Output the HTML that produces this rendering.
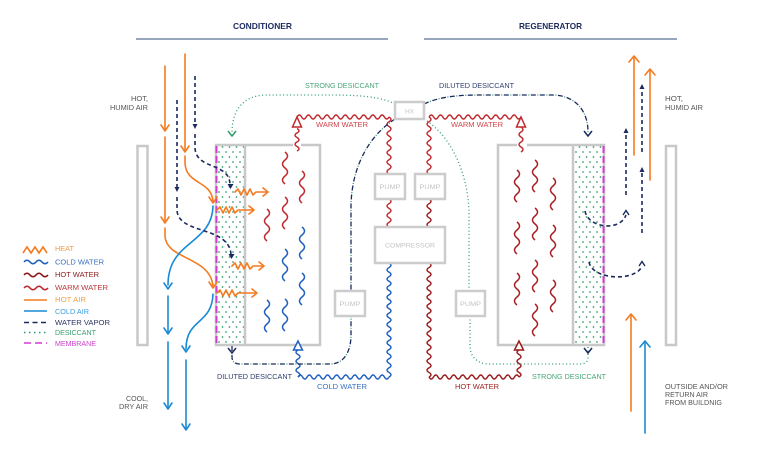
<!DOCTYPE html>
<html><head><meta charset="utf-8"><style>
html,body{margin:0;padding:0;background:#fff;}
svg{display:block;}
text{font-family:"Liberation Sans",Arial,sans-serif;}
</style></head><body>
<svg width="770" height="456" viewBox="0 0 770 456" xmlns="http://www.w3.org/2000/svg">
<defs>
<pattern id="dots" width="7" height="10" patternUnits="userSpaceOnUse">
<circle cx="2" cy="2" r="0.85" fill="#2e9a6a"/>
<circle cx="5.5" cy="7" r="0.85" fill="#2e9a6a"/>
</pattern>
</defs>
<rect width="770" height="456" fill="#fff"/>

<!-- titles -->
<text x="233" y="29" font-size="8.5" font-weight="bold" fill="#1b2a5e" textLength="59" lengthAdjust="spacingAndGlyphs">CONDITIONER</text>
<text x="519" y="29" font-size="8.5" font-weight="bold" fill="#1b2a5e" textLength="63" lengthAdjust="spacingAndGlyphs">REGENERATOR</text>
<line x1="136" y1="39" x2="388" y2="39" stroke="#97a6bd" stroke-width="2"/>
<line x1="424" y1="39" x2="677" y2="39" stroke="#97a6bd" stroke-width="2"/>

<!-- side panels -->
<rect x="137.5" y="146" width="10" height="199" fill="#fff" stroke="#c8c8c8" stroke-width="2.5"/>
<rect x="666" y="146" width="10" height="199" fill="#fff" stroke="#c8c8c8" stroke-width="2.5"/>

<!-- desiccant columns -->
<rect x="217" y="146" width="28" height="198" fill="url(#dots)"/>
<rect x="574" y="146" width="29" height="198" fill="url(#dots)"/>

<!-- box outlines -->
<g fill="none" stroke="#c8c8c8" stroke-width="2.5">
<path d="M293 145 L216 145 L216 345 L320 345 L320 145 L301 145"/>
<path d="M245 145 L245 345"/>
<path d="M517 145 L498 145 L498 345 L604 345 L604 145 L527 145"/>
<path d="M573 145 L573 345"/>
</g>
<!-- membranes -->
<line x1="216.5" y1="146" x2="216.5" y2="345" stroke="#d43ad4" stroke-width="2" stroke-dasharray="7 3"/>
<line x1="603.5" y1="146" x2="603.5" y2="345" stroke="#d43ad4" stroke-width="2" stroke-dasharray="7 3"/>

<!-- squiggles left box -->
<g fill="none" stroke-width="1.5">
<g stroke="#c0282d">
<path d="M285 152 q5 4 0 8t0 8t0 8t0 8"/>
<path d="M302 171 q5 4 0 8t0 8t0 8t0 8"/>
<path d="M285 197 q5 4 0 8t0 8t0 8t0 8"/>
<path d="M267 209 q5 4 0 8t0 8t0 8t0 8"/>
</g>
<g stroke="#1f5fbf">
<path d="M302 227 q5 4 0 8t0 8t0 8t0 8"/>
<path d="M285 249 q5 4 0 8t0 8t0 8t0 8"/>
<path d="M302 273 q5 4 0 8t0 8t0 8t0 8"/>
<path d="M267 300 q5 4 0 8t0 8t0 8t0 8"/>
<path d="M285 299 q5 4 0 8t0 8t0 8t0 8"/>
</g>
<!-- squiggles right box -->
<g stroke="#a81f24">
<path d="M535 160 q5 4 0 8t0 8t0 8t0 8"/>
<path d="M517 170 q5 4 0 8t0 8t0 8t0 8"/>
<path d="M553 178 q5 4 0 8t0 8t0 8t0 8"/>
<path d="M535 208 q5 4 0 8t0 8t0 8t0 8"/>
<path d="M517 222 q5 4 0 8t0 8t0 8t0 8"/>
<path d="M553 225 q5 4 0 8t0 8t0 8t0 8"/>
<path d="M535 260 q5 4 0 8t0 8t0 8t0 8"/>
<path d="M517 273 q5 4 0 8t0 8t0 8t0 8"/>
<path d="M553 280 q5 4 0 8t0 8t0 8t0 8"/>
<path d="M535 304 q5 4 0 8t0 8t0 8t0 8"/>
</g>
</g>

<!-- water wires -->
<g fill="none" stroke-width="1.4">
<!-- left warm water -->
<g stroke="#c0282d">
<path d="M297 151 q4 -2.25 0 -4.5t0 -4.5t0 -4.5t0 -4.5t0 -4.5"/>
<path d="M297 117 q2.3 -4 4.6 0t4.6 0t4.6 0t4.6 0t4.6 0t4.6 0t4.6 0t4.6 0t4.6 0t4.6 0t4.6 0t4.6 0t4.6 0t4.6 0t4.6 0t4.6 0t4.6 0t4.6 0t4.6 0t4.6 0"/>
<path d="M389 117 q4 2.375 0 4.75t0 4.75t0 4.75t0 4.75t0 4.75t0 4.75t0 4.75t0 4.75t0 4.75t0 4.75t0 4.75t0 4.75"/>
<path d="M389 199 q4 2.33 0 4.67t0 4.67t0 4.67t0 4.67t0 4.67t0 4.67"/>
<!-- right warm water -->
<path d="M429 117 q4 2.375 0 4.75t0 4.75t0 4.75t0 4.75t0 4.75t0 4.75t0 4.75t0 4.75t0 4.75t0 4.75t0 4.75t0 4.75"/>
<path d="M429 117 q2.3 -4 4.6 0t4.6 0t4.6 0t4.6 0t4.6 0t4.6 0t4.6 0t4.6 0t4.6 0t4.6 0t4.6 0t4.6 0t4.6 0t4.6 0t4.6 0t4.6 0t4.6 0t4.6 0t4.6 0t4.6 0"/>
<path d="M521 127 q4 2.5 0 5t0 5t0 5t0 5t0 5"/>
</g>
<g stroke="#9a1c1c">
<path d="M429 199 q4 2.33 0 4.67t0 4.67t0 4.67t0 4.67t0 4.67t0 4.67"/>
<!-- hot water -->
<path d="M429 263 q4 2.28 0 4.56t0 4.56t0 4.56t0 4.56t0 4.56t0 4.56t0 4.56t0 4.56t0 4.56t0 4.56t0 4.56t0 4.56t0 4.56t0 4.56t0 4.56t0 4.56t0 4.56t0 4.56t0 4.56t0 4.56t0 4.56t0 4.56t0 4.56t0 4.56t0 4.56"/>
<path d="M429 377 q2.25 4 4.5 0t4.5 0t4.5 0t4.5 0t4.5 0t4.5 0t4.5 0t4.5 0t4.5 0t4.5 0t4.5 0t4.5 0t4.5 0t4.5 0t4.5 0t4.5 0t4.5 0t4.5 0t4.5 0t4.5 0"/>
<path d="M519 377 q4 -2.25 0 -4.5t0 -4.5t0 -4.5t0 -4.5t0 -4.5t0 -4.5"/>
</g>
<!-- cold water -->
<g stroke="#1f5fbf">
<path d="M389 263 q4 2.28 0 4.56t0 4.56t0 4.56t0 4.56t0 4.56t0 4.56t0 4.56t0 4.56t0 4.56t0 4.56t0 4.56t0 4.56t0 4.56t0 4.56t0 4.56t0 4.56t0 4.56t0 4.56t0 4.56t0 4.56t0 4.56t0 4.56t0 4.56t0 4.56t0 4.56"/>
<path d="M389 377 q-2.275 4 -4.55 0t-4.55 0t-4.55 0t-4.55 0t-4.55 0t-4.55 0t-4.55 0t-4.55 0t-4.55 0t-4.55 0t-4.55 0t-4.55 0t-4.55 0t-4.55 0t-4.55 0t-4.55 0t-4.55 0t-4.55 0t-4.55 0t-4.55 0"/>
<path d="M298 377 q4 -2.25 0 -4.5t0 -4.5t0 -4.5t0 -4.5t0 -4.5t0 -4.5"/>
</g>
</g>
<!-- triangles -->
<g fill="#fff" stroke-width="1.5">
<path d="M297 117 L292.5 127 L301.5 127 Z" stroke="#c0282d"/>
<path d="M521 117 L516.5 127 L525.5 127 Z" stroke="#c0282d"/>
<path d="M298 341 L293.5 350 L302.5 350 Z" stroke="#1f5fbf"/>
<path d="M519 341 L514.5 350 L523.5 350 Z" stroke="#9a1c1c"/>
</g>

<!-- desiccant loops -->
<g fill="none" stroke-width="1.3">
<path d="M395 104 C375 94 345 95 305 95 L265 95 C243 96 232 110 232 133" stroke="#2e9a6a" stroke-dasharray="1 2.5"/>
<path d="M424 104 C445 94 470 95 500 95 L555 95 C578 97 588 113 588 132" stroke="#1b2a5e" stroke-dasharray="5 4"/>
<path d="M424 104 C445 94 470 95 500 95 L555 95 C578 97 588 113 588 132" stroke="#2e9a6a" stroke-dasharray="1 8" stroke-dashoffset="-6.5"/>
<path d="M395 119 C370 135 352 165 351 205 L351 291" stroke="#1b2a5e" stroke-dasharray="5 4"/>
<path d="M395 119 C370 135 352 165 351 205 L351 291" stroke="#2e9a6a" stroke-dasharray="1 8" stroke-dashoffset="-6.5"/>
<path d="M232 346 L232 357 Q232 364 240 364 L330 364 C345 364 351 350 351 335 L351 316" stroke="#1b2a5e" stroke-dasharray="5 4"/>
<path d="M232 346 L232 357 Q232 364 240 364 L330 364 C345 364 351 350 351 335 L351 316" stroke="#2e9a6a" stroke-dasharray="1 8" stroke-dashoffset="-6.5"/>
<path d="M424 119 C450 135 467 170 469 210 L469 291" stroke="#2e9a6a" stroke-dasharray="1 2.5"/>
<path d="M470 316 L470 345 C470 358 478 364 490 364 L580 364 Q588 364 588 357 L588 346" stroke="#2e9a6a" stroke-dasharray="1 2.5"/>
</g>
<!-- desiccant chevrons -->
<g fill="none" stroke-width="1.5">
<path d="M228 131 L232 136 L236 131" stroke="#2e9a6a"/>
<path d="M584 131 L588 136 L592 131" stroke="#1b2a5e"/>
<path d="M228 348 L232 353 L236 348" stroke="#1b2a5e"/>
<path d="M584 348 L588 353 L592 348" stroke="#1b2a5e"/>
</g>

<!-- equipment boxes -->
<g fill="#fff" stroke="#cccccc" stroke-width="2.5">
<rect x="395" y="102" width="29" height="17"/>
<rect x="375" y="174" width="30" height="25"/>
<rect x="415" y="174" width="30" height="25"/>
<rect x="375" y="227" width="70" height="36"/>
<rect x="335" y="291" width="30" height="25"/>
<rect x="456" y="291" width="29" height="25"/>
</g>
<g font-size="6.5" fill="#c4c4c4" text-anchor="middle">
<text x="409.5" y="113.5">HX</text>
<text x="390" y="189" textLength="21" lengthAdjust="spacingAndGlyphs">PUMP</text>
<text x="430" y="189" textLength="21" lengthAdjust="spacingAndGlyphs">PUMP</text>
<text x="410" y="247.5" textLength="50" lengthAdjust="spacingAndGlyphs">COMPRESSOR</text>
<text x="350" y="306" textLength="21" lengthAdjust="spacingAndGlyphs">PUMP</text>
<text x="470.5" y="306" textLength="21" lengthAdjust="spacingAndGlyphs">PUMP</text>
</g>

<!-- left air flows -->
<g fill="none" stroke-width="1.6" stroke-linecap="round" stroke-linejoin="round">
<g stroke="#f47b20">
<path d="M165 66 L165 130"/><path d="M161 125 L165 131 L169 125"/>
<path d="M165 137 L165 222"/><path d="M161 217 L165 223 L169 217"/>
<path d="M165 228 L165 236 C166 260 210 256 213 286"/><path d="M209 282 L213 288 L217 282"/>
<path d="M185 54 L185 151"/><path d="M181 146 L185 152 L189 146"/>
<path d="M185 156 L185 163 C186 185 211 180 213 201"/><path d="M209 197 L213 203 L217 197"/>
<path d="M235 192 l3 -3 l3 6 l3 -6 l3 6 l3 -6 l3 6 l3 -3 L267 192"/><path d="M263 188 L268 192 L263 196"/>
<path d="M217 210 l3 -3 l3 6 l3 -6 l3 6 l3 -6 l3 6 l3 -3 L253 210"/><path d="M249 206 L254 210 L249 214"/>
<path d="M232 266 l3 -3 l3 6 l3 -6 l3 6 l3 -6 l3 6 l3 -3 L263 266"/><path d="M259 262 L264 266 L259 270"/>
<path d="M217 293 l3 -3 l3 6 l3 -6 l3 6 l3 -6 l3 6 l3 -3 L256 293"/><path d="M252 289 L257 293 L252 297"/>
</g>
<g stroke="#1a8ad4">
<path d="M213 206 C212 245 168 240 168 285"/><path d="M164 283 L168 289 L172 283"/>
<path d="M168 296 L168 333"/><path d="M164 328 L168 334 L172 328"/>
<path d="M168 342 L168 408"/><path d="M164 403 L168 409 L172 403"/>
<path d="M213 294 C212 325 186 318 186 349"/><path d="M182 346 L186 352 L190 346"/>
<path d="M186 360 L186 429"/><path d="M182 424 L186 430 L190 424"/>
</g>
<g stroke="#1b2a5e" stroke-dasharray="4 3" stroke-linecap="butt">
<path d="M195 76 L195 126"/>
<path d="M195 134 L195 148 C196 170 229 162 230 184"/>
<path d="M177 100 L177 188"/>
<path d="M177 197 L177 210 C178 235 228 225 231 254"/>
</g>
</g>
<g fill="#1b2a5e">
<path d="M192.5 124 L195 129 L197.5 124 Z"/>
<path d="M227.5 184 L230.5 189 L233.5 184 Z"/>
<path d="M174.5 187 L177 192 L179.5 187 Z"/>
<path d="M228.5 254 L231.5 259 L234.5 254 Z"/>
</g>

<!-- right air flows -->
<g fill="none" stroke-width="1.6" stroke-linecap="round" stroke-linejoin="round">
<g stroke="#f47b20">
<path d="M634 155 L634 57"/><path d="M629 62 L634 56 L639 62"/>
<path d="M650 180 L650 70"/><path d="M645 75 L650 69 L655 75"/>
<path d="M631 411 L631 315"/><path d="M626 320 L631 314 L636 320"/>
</g>
<g stroke="#1a8ad4">
<path d="M645 433 L645 342"/><path d="M640 347 L645 341 L650 347"/>
</g>
<g stroke="#1b2a5e" stroke-dasharray="4 3" stroke-linecap="butt">
<path d="M642 152 L642 88"/>
<path d="M642 233 L642 171"/>
<path d="M626 195 L626 132"/>
<path d="M585 211 C588 228 620 232 626 215"/>
<path d="M589 262 C592 280 636 282 642 266"/>
</g>
</g>
<g fill="#1b2a5e">
<path d="M639.5 89 L642 84 L644.5 89 Z"/>
<path d="M639.5 172 L642 167 L644.5 172 Z"/>
<path d="M623.5 133 L626 128 L628.5 133 Z"/>
</g>
<g fill="none" stroke="#1b2a5e" stroke-width="1.4">
<path d="M623 215 L626 210.5 L629 215"/>
<path d="M639 266 L642 261.5 L645 266"/>
</g>

<!-- labels -->
<g font-size="7">
<text x="305" y="88" fill="#4aa57a" textLength="74" lengthAdjust="spacingAndGlyphs">STRONG DESICCANT</text>
<text x="439" y="88" fill="#2f3f70" textLength="75" lengthAdjust="spacingAndGlyphs">DILUTED DESICCANT</text>
<text x="316" y="127" fill="#d0454a" textLength="52" lengthAdjust="spacingAndGlyphs">WARM WATER</text>
<text x="451" y="127" fill="#d0454a" textLength="52" lengthAdjust="spacingAndGlyphs">WARM WATER</text>
<text x="217" y="379" fill="#2f3f70" textLength="75" lengthAdjust="spacingAndGlyphs">DILUTED DESICCANT</text>
<text x="317" y="389" fill="#3a70c0" textLength="50" lengthAdjust="spacingAndGlyphs">COLD WATER</text>
<text x="455" y="389" fill="#a02525" textLength="44" lengthAdjust="spacingAndGlyphs">HOT WATER</text>
<text x="532" y="379" fill="#4aa57a" textLength="74" lengthAdjust="spacingAndGlyphs">STRONG DESICCANT</text>
<g fill="#555">
<text x="148" y="101" text-anchor="end" textLength="17" lengthAdjust="spacingAndGlyphs">HOT,</text>
<text x="148" y="110" text-anchor="end" textLength="38" lengthAdjust="spacingAndGlyphs">HUMID AIR</text>
<text x="148" y="401" text-anchor="end" textLength="22" lengthAdjust="spacingAndGlyphs">COOL,</text>
<text x="148" y="409" text-anchor="end" textLength="29" lengthAdjust="spacingAndGlyphs">DRY AIR</text>
<text x="665" y="101" textLength="18" lengthAdjust="spacingAndGlyphs">HOT,</text>
<text x="665" y="110" textLength="38" lengthAdjust="spacingAndGlyphs">HUMID AIR</text>
<text x="665" y="389" textLength="63" lengthAdjust="spacingAndGlyphs">OUTSIDE AND/OR</text>
<text x="665" y="397" textLength="43" lengthAdjust="spacingAndGlyphs">RETURN AIR</text>
<text x="665" y="405" textLength="57" lengthAdjust="spacingAndGlyphs">FROM BUILDNIG</text>
</g>
</g>

<!-- legend -->
<g fill="none" stroke-width="1.6">
<path d="M23 253 l4 -6 l4 6 l4 -6 l4 6 l4 -6 l4 6" stroke="#f47b20"/>
<path d="M24 262 q3 -3.5 6 0t6 0t6 0t6 0" stroke="#1f5fbf"/>
<path d="M24 275 q3 -3.5 6 0t6 0t6 0t6 0" stroke="#8b1414"/>
<path d="M24 288 q3 -3.5 6 0t6 0t6 0t6 0" stroke="#c0282d"/>
<path d="M24 300 L47 300" stroke="#f47b20"/>
<path d="M24 311 L47 311" stroke="#1a8ad4"/>
<path d="M24 322.5 L47 322.5" stroke="#1b2a5e" stroke-dasharray="5 3.5"/>
<path d="M24 332.5 L47 332.5" stroke="#2e9a6a" stroke-dasharray="1.5 3.5"/>
<path d="M24 343 L47 343" stroke="#d43ad4" stroke-dasharray="7 4"/>
</g>
<g font-size="7">
<text x="55" y="251" fill="#f39a45" textLength="19" lengthAdjust="spacingAndGlyphs">HEAT</text>
<text x="55" y="264.5" fill="#3a6fc0" textLength="49" lengthAdjust="spacingAndGlyphs">COLD WATER</text>
<text x="55" y="277" fill="#8b2020" textLength="44" lengthAdjust="spacingAndGlyphs">HOT WATER</text>
<text x="55" y="290" fill="#c0393b" textLength="53" lengthAdjust="spacingAndGlyphs">WARM WATER</text>
<text x="55" y="302" fill="#f5a040" textLength="31" lengthAdjust="spacingAndGlyphs">HOT AIR</text>
<text x="55" y="314" fill="#3aa0e0" textLength="34" lengthAdjust="spacingAndGlyphs">COLD AIR</text>
<text x="55" y="325" fill="#2a3560" textLength="55" lengthAdjust="spacingAndGlyphs">WATER VAPOR</text>
<text x="55" y="335" fill="#3aa070" textLength="41" lengthAdjust="spacingAndGlyphs">DESICCANT</text>
<text x="55" y="346" fill="#d040d0" textLength="41" lengthAdjust="spacingAndGlyphs">MEMBRANE</text>
</g>
</svg>
</body></html>
